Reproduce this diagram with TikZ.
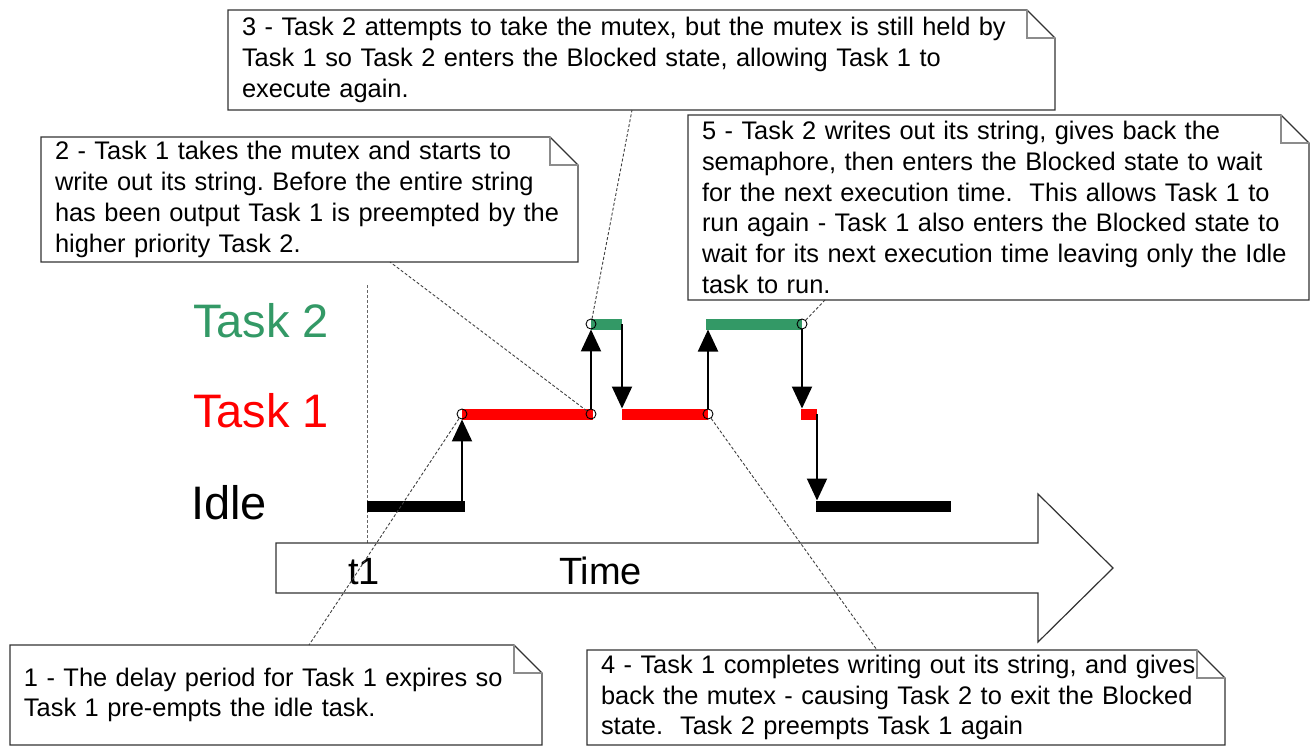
\documentclass[tikz,border=0pt]{standalone}
\usepackage{fontspec}
\setmainfont{Liberation Sans}
\usepackage{xcolor}
\usetikzlibrary{arrows.meta}
\definecolor{taskgreen}{HTML}{339966}
\definecolor{taskred}{HTML}{FF0000}
\definecolor{frameink}{HTML}{333333}
\frenchspacing
\newcommand{\dogear}[1]{%
  \draw[noteframe] (#1.south west) -- (#1.north west) -- ([xshift=-14pt]#1.north east)
    -- ([yshift=-14pt]#1.north east) -- (#1.south east) -- cycle;
  \draw[noteframe, draw=black!45] ([xshift=-14pt]#1.north east) |- ([yshift=-14pt]#1.north east);
}

\begin{document}
\begin{tikzpicture}[
  x=0.5pt, y=-0.5pt,
  note/.style={align=left, inner xsep=7pt, inner ysep=0pt, outer sep=0pt, text=black,
    font=\fontsize{12.7}{15.4}\selectfont},
  noteframe/.style={draw=frameink, line width=0.6pt, line join=miter},
  bar/.style={line width=5.5pt},
  arr/.style={-{Triangle[length=11pt,width=10pt]}, line width=1pt},
  knot/.style={circle, draw, line width=0.45pt, minimum size=5pt, inner sep=0pt},
  callout/.style={dash pattern=on 1.5pt off 1pt, line width=0.45pt, black!75},
  level/.style={anchor=base west, font=\fontsize{23.5}{28}\selectfont},
  axislabel/.style={anchor=base west, font=\fontsize{19}{23}\selectfont}
]
  \useasboundingbox (0,0) rectangle (1310,746);
  \draw[dash pattern=on 1.5pt off 1pt, line width=0.45pt, black!60] (367,285) -- (367,560);
  \draw[noteframe, fill=white] (276,543) -- (1038,543) -- (1038,494) -- (1113,568)
    -- (1038,642) -- (1038,593) -- (276,593) -- cycle;
  \node[axislabel] (t1) at (341,584) {t1};
  \node[axislabel] (time) at (552,584) {Time};

  \node[level, text=taskgreen] (lt2) at (186,337) {Task 2};
  \node[level, text=taskred] (lt1) at (186,427) {Task 1};
  \node[level] (lidle) at (184,519) {Idle};

  \draw[bar] (367,506) -- (465,506);
  \draw[bar, taskred] (462,414) -- (593,414);
  \draw[bar, taskgreen] (591,324) -- (622,324);
  \draw[bar, taskred] (622,414) -- (708,414);
  \draw[bar, taskgreen] (706,324) -- (802,324);
  \draw[bar, taskred] (801,414) -- (817,414);
  \draw[bar] (816,506) -- (951,506);

  \coordinate (i1) at (462,506);
  \coordinate (g1e) at (622,324);
  \coordinate (r2s) at (622,414);
  \coordinate (g2s) at (708,324);
  \coordinate (r3s) at (802,414);
  \coordinate (r3e) at (817,414);
  \coordinate (i2s) at (817,506);
  \node[knot] (k1) at (462,414) {};
  \node[knot] (k2) at (591,414) {};
  \node[knot] (k3) at (591,324) {};
  \node[knot] (k4) at (708,414) {};
  \node[knot] (k5) at (802,324) {};
  \draw[arr] (i1) -- (k1);
  \draw[arr] (k2) -- (k3);
  \draw[arr, shorten >=2.75pt] (g1e) -- (r2s);
  \draw[arr, shorten >=2.75pt] (k4) -- (g2s);
  \draw[arr, shorten >=2.75pt] (k5) -- (r3s);
  \draw[arr, shorten >=2.75pt] (r3e) -- (i2s);

  \node[note, text width=252pt, minimum height=50pt] (n1) at (276,695) {1 - The delay period for Task 1 expires so\\Task 1 pre-empts the idle task.};
  \node[note, text width=254.5pt, minimum height=62.5pt] (n2) at (309.5,199.5) {2 - Task 1 takes the mutex and starts to\\write out its string. Before the entire string\\has been output Task 1 is preempted by the\\higher priority Task 2.};
  \node[note, text width=399.5pt, minimum height=50pt] (n3) at (641.5,60) {3 - Task 2 attempts to take the mutex, but the mutex is still held by\\Task 1 so Task 2 enters the Blocked state, allowing Task 1 to\\execute again.};
  \node[note, text width=305pt, minimum height=47.5pt] (n4) at (906,697.5) {4 - Task 1 completes writing out its string, and gives\\back the mutex - causing Task 2 to exit the Blocked\\state.\ \ Task 2 preempts Task 1 again};
  \node[note, text width=296.5pt, minimum height=92.5pt] (n5) at (998.5,207.5) {5 - Task 2 writes out its string, gives back the\\semaphore, then enters the Blocked state to wait\\for the next execution time.\ \ This allows Task 1 to\\run again - Task 1 also enters the Blocked state to\\wait for its next execution time leaving only the Idle\\task to run.};
  \dogear{n1}
  \dogear{n2}
  \dogear{n3}
  \dogear{n4}
  \dogear{n5}

  \draw[callout] (k1) -- ([xshift=149.5pt]n1.north west);
  \draw[callout] (k2) -- ([xshift=174.5pt]n2.south west);
  \draw[callout] (k3) -- ([xshift=202pt]n3.south west);
  \draw[callout] (k4) -- ([xshift=145pt]n4.north west);
  \draw[callout] (k5) -- ([xshift=68.5pt]n5.south west);
\end{tikzpicture}
\end{document}
